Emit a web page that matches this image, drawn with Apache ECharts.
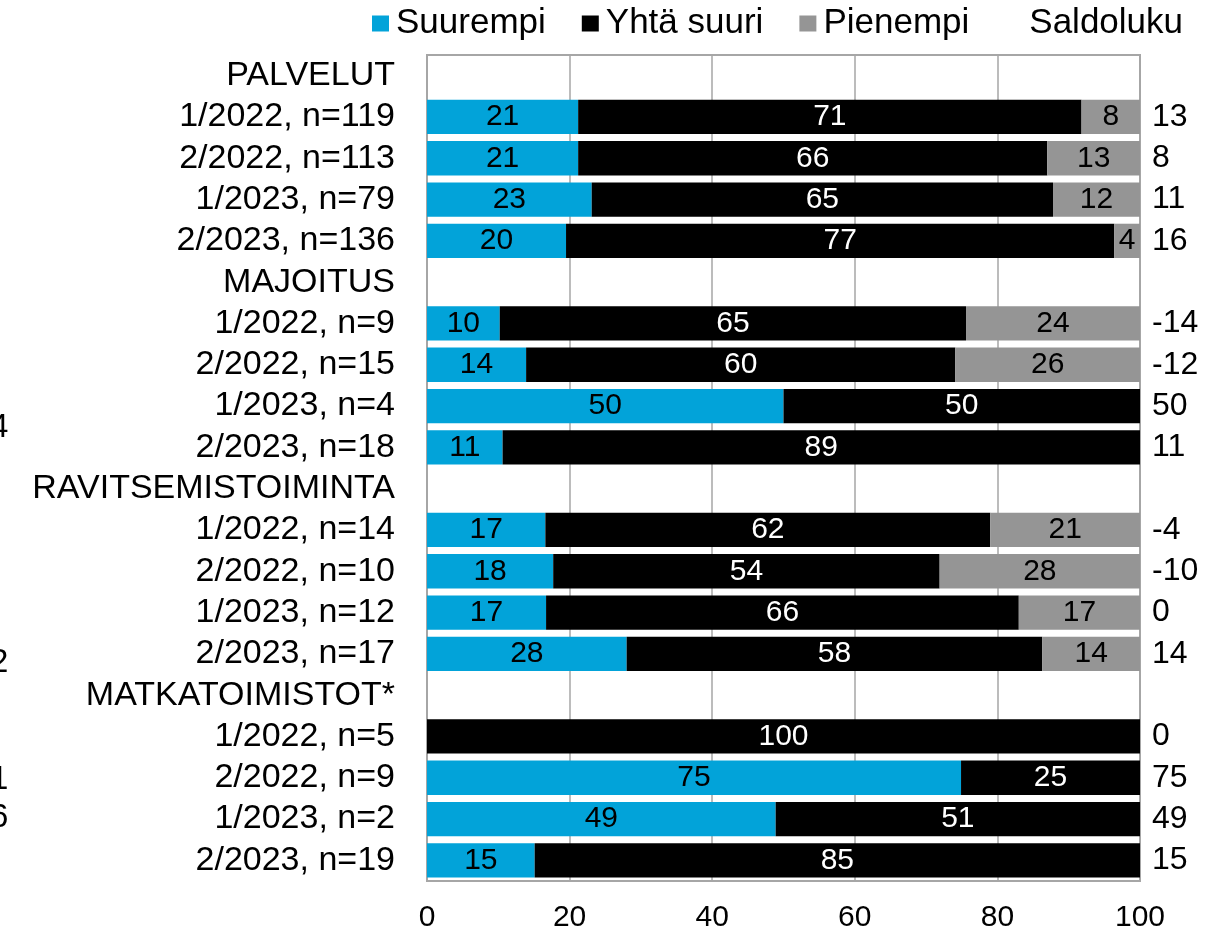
<!DOCTYPE html>
<html>
<head>
<meta charset="utf-8">
<script src="https://cdn.jsdelivr.net/npm/echarts@6/dist/echarts.min.js"></script>
<style>
  html, body { margin: 0; padding: 0; background: #fff; }
  #chart { width: 1225px; height: 937px; }
</style>
</head>
<body>
<div id="chart"></div>
<script>
// rivit ylhäältä alas, otsikkoriveillä ei palkkeja
const categories = [
  'PALVELUT', '1/2022, n=119', '2/2022, n=113', '1/2023, n=79', '2/2023, n=136',
  'MAJOITUS', '1/2022, n=9', '2/2022, n=15', '1/2023, n=4', '2/2023, n=18',
  'RAVITSEMISTOIMINTA', '1/2022, n=14', '2/2022, n=10', '1/2023, n=12', '2/2023, n=17',
  'MATKATOIMISTOT*', '1/2022, n=5', '2/2022, n=9', '1/2023, n=2', '2/2023, n=19'
]
const suurempi = ['-', 21.2, 21.2, 23.1, 19.5, '-', 10.2, 13.9, 50, 10.6, '-', 16.6, 17.7, 16.7, 28.0, '-', 0, 74.9, 48.9, 15.1]
const yhtaSuuri = ['-', 70.6, 65.8, 64.7, 76.9, '-', 65.4, 60.2, 50, 89.4, '-', 62.4, 54.2, 66.3, 58.3, '-', 100, 25.1, 51.1, 84.9]
const pienempi = ['-', 8.2, 13.0, 12.2, 3.6, '-', 24.4, 25.9, 0, 0, '-', 21.0, 28.1, 17.0, 13.7, '-', 0, 0, 0, 0]
const saldoluku = ['', 13, 8, 11, 16, '', -14, -12, 50, 11, '', -4, -10, 0, 14, '', 0, 75, 49, 15]
const xTicks = [0, 20, 40, 60, 80, 100]

const chart = echarts.init(document.getElementById('chart'))
const font = 'Liberation Sans, Arial, sans-serif'

function barLabel(color) {
  return {
    show: true,
    position: 'inside',
    color: color,
    fontSize: 30,
    fontFamily: font,
    formatter: p => (p.value === '-' || p.value === 0) ? '' : String(Math.round(p.value))
  }
}

const option = {
  animation: false,
  textStyle: { fontFamily: font },
  legend: {
    top: 1,
    left: 367,
    itemWidth: 17,
    itemHeight: 16,
    itemGap: 36,
    icon: 'rect',
    textStyle: { fontSize: 35, color: '#000', fontFamily: font, padding: [0, 0, 0, 2] },
    data: [
      { name: 'Suurempi' },
      { name: 'Yhtä suuri' },
      { name: 'Pienempi' },
      { name: 'Saldoluku', itemStyle: { opacity: 0 } }
    ]
  },
  grid: {
    left: 427,
    right: 85,
    top: 55,
    bottom: 56,
    show: true,
    borderColor: '#a6a6a6',
    borderWidth: 2,
    containLabel: false
  },
  xAxis: {
    type: 'value',
    min: 0,
    max: 100,
    interval: 20,
    axisLine: { show: false },
    axisTick: { show: false },
    splitLine: { lineStyle: { color: '#a6a6a6', width: 1.5 } },
    axisLabel: {
      fontSize: 30,
      color: '#000',
      margin: 22,
      customValues: xTicks
    }
  },
  yAxis: [
    {
      type: 'category',
      inverse: true,
      data: categories,
      axisLine: { show: false },
      axisTick: { show: false },
      axisLabel: { fontSize: 34, color: '#000', margin: 32, interval: 0 }
    },
    {
      type: 'category',
      inverse: true,
      position: 'right',
      data: saldoluku.map(String),
      axisLine: { show: false },
      axisTick: { show: false },
      axisLabel: { fontSize: 32, color: '#000', margin: 12, align: 'left', interval: 0 }
    }
  ],
  series: [
    {
      name: 'Suurempi', type: 'bar', stack: 'a', barCategoryGap: '17%',
      itemStyle: { color: '#02a3d9' }, label: barLabel('#000'), data: suurempi
    },
    {
      name: 'Yhtä suuri', type: 'bar', stack: 'a', barCategoryGap: '17%',
      itemStyle: { color: '#000' }, label: barLabel('#fff'), data: yhtaSuuri
    },
    {
      name: 'Pienempi', type: 'bar', stack: 'a', barCategoryGap: '17%',
      itemStyle: { color: '#959595' }, label: barLabel('#000'), data: pienempi
    },
    {
      name: 'Saldoluku', type: 'bar', yAxisIndex: 1,
      itemStyle: { color: 'transparent' }, data: []
    }
  ],
  // viereisestä kuviosta leikkautuneet luvut vasemmassa reunassa
  graphic: [
    { type: 'text', left: -10, top: 411, style: { text: '4', fontSize: 33, fill: '#000', fontFamily: font } },
    { type: 'text', left: -10, top: 646, style: { text: '2', fontSize: 33, fill: '#000', fontFamily: font } },
    { type: 'text', left: -10, top: 763, style: { text: '1', fontSize: 33, fill: '#000', fontFamily: font } },
    { type: 'text', left: -10, top: 801, style: { text: '6', fontSize: 33, fill: '#000', fontFamily: font } }
  ]
}

chart.setOption(option)
window.addEventListener('resize', () => chart.resize())
</script>
</body>
</html>
